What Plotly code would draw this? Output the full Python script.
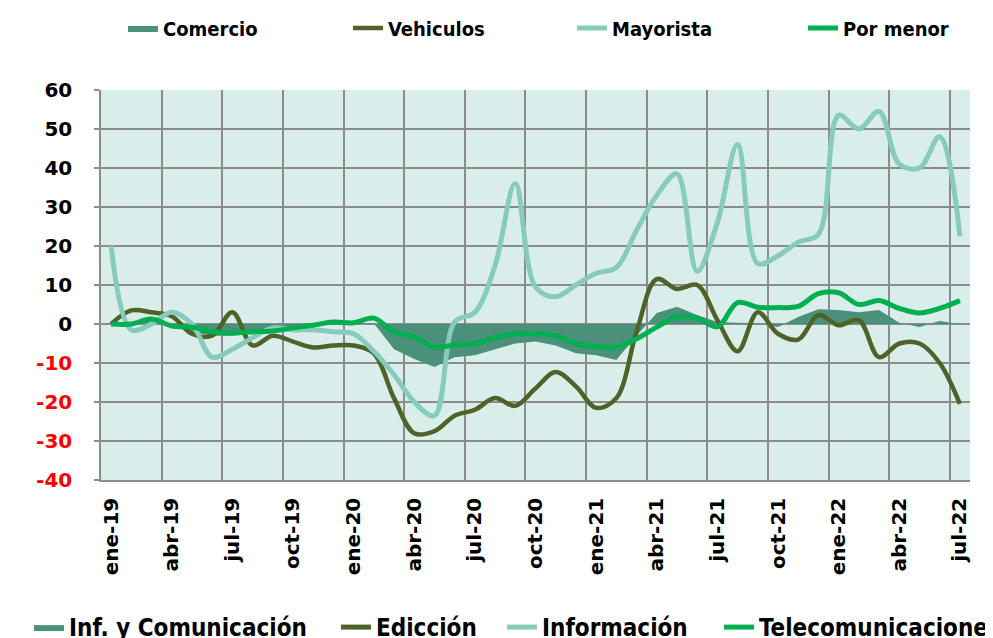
import plotly.graph_objects as go

# ---- data ----
mes_abbr = ["ene", "feb", "mar", "abr", "may", "jun", "jul", "ago", "sep", "oct", "nov", "dic"]
months = [f"{m}-{y}" for y in ["19", "20", "21", "22"] for m in mes_abbr][:43]
tick_labels = months[::3]

comercio = [0, 0.5, 1, -0.5, -2, -3, -3, -2.5, -2, -1, -0.5, 0,
            0, 0.2, -6.5, -9, -11, -8.5, -8, -6.5, -5, -4.5, -5.5, -7.5,
            -8, -9.2, -3, 2.8, 4.4, 2.3, 0.5, 0.3, 0.2, -0.8, 1.8, 3.8,
            3.6, 3, 3.6, 0.3, -0.8, 0.8, 0]
vehiculos = [0, 3.5, 3, 2, -2.5, -3, 3, -5.5, -3, -4.5, -6, -5.5,
             -5.5, -7.5, -19, -28, -27.5, -23.5, -22, -19, -21, -16.5, -12.3, -16,
             -21.5, -19, -2, 11.5, 9, 10, 1, -7, 3, -2.5, -4, 2.3,
             -0.3, 1, -8.5, -5, -5, -10, -20.5]
mayorista = [20, -1.5, 0, 3, 0, -8.5, -6.5, -3.5, -1, -1.5, -1.5, -2,
             -2.5, -7, -13, -20, -23.5, 0.5, 3, 15, 36, 9.5, 7, 10,
             13, 14.5, 24, 33, 38.5, 13.5, 26, 46, 15.5, 17.5, 21, 23,
             53.5, 50, 54.5, 41, 40, 48, 22.5]
por_menor = [0, 0, 1.3, -0.5, -0.8, -2, -2.3, -2, -1.8, -1, -0.3, 0.5,
             0.3, 1.5, -2, -3.3, -6, -5.3, -5, -3.5, -2.5, -2.5, -3, -5,
             -5.8, -6, -3.8, -0.8, 1.8, 1.5, -0.7, 5.5, 4.3, 4.2, 4.5, 7.8,
             8, 5, 6, 4, 2.8, 4, 6]

y_ticks = list(range(-40, 61, 10))

names_top = ["Comercio", "Vehiculos", "Mayorista", "Por menor"]
names_bottom = ["Inf. y Comunicación", "Edicción", "Información", "Telecomunicaciones"]

# ---- styles ----
c_area = "#4A907A"
c_veh = "#4F6228"
c_may = "#86CBBB"
c_men = "#00B050"
colors = [c_area, c_veh, c_may, c_men]
grid = "#8C8C8C"
# page has an 8px body margin, so the figure is drawn 8px smaller
W, H = 985, 630

top_x = [115, 340, 564, 795]      # legend box left (px, figure coords)
bot_x = [21, 328, 494, 711]
legend_font = "Liberation Sans Narrow, DejaVu Sans Condensed, DejaVu Sans, sans-serif"

fig = go.Figure()
series = [comercio, vehiculos, mayorista, por_menor]
for i, (nm, vals, col) in enumerate(zip(names_top, series, colors)):
    lg = "legend" if i == 0 else f"legend{i + 1}"
    if i == 0:
        fig.add_trace(go.Scatter(x=months, y=vals, name=nm, mode="lines",
                                 line=dict(width=0, color=col), fill="tozeroy",
                                 fillcolor=col, legend=lg))
    else:
        fig.add_trace(go.Scatter(x=months, y=vals, name=nm, mode="lines",
                                 line=dict(width=4.5 if i == 1 else 5, color=col,
                                           shape="spline", smoothing=1),
                                 legend=lg))

# second legend row (same colours, alternate names)
for i, (nm, col) in enumerate(zip(names_bottom, colors)):
    lg = f"legend{i + 5}"
    if i == 0:
        fig.add_trace(go.Scatter(x=[None], y=[None], name=nm, mode="lines",
                                 line=dict(width=0, color=col), fill="tozeroy",
                                 fillcolor=col, legend=lg))
    else:
        fig.add_trace(go.Scatter(x=[None], y=[None], name=nm, mode="lines",
                                 line=dict(width=5, color=col), legend=lg))

ticktext_y = [f'<span style="color:#FF0000">{v}</span>' if v < 0 else str(v) for v in y_ticks]

legends = {}
for i in range(4):
    key = "legend" if i == 0 else f"legend{i + 1}"
    legends[key] = dict(orientation="h", xref="container", yref="container",
                        x=top_x[i] / W, y=1 - 20 / H, xanchor="left", yanchor="middle",
                        font=dict(family=legend_font, size=20, weight="bold", color="black"),
                        bgcolor="rgba(0,0,0,0)")
for i in range(4):
    key = f"legend{i + 5}"
    legends[key] = dict(orientation="h", xref="container", yref="container",
                        x=bot_x[i] / W, y=1 - 597 / H, xanchor="left", yanchor="top",
                        font=dict(family=legend_font, size=24, weight="bold", color="black"),
                        bgcolor="rgba(0,0,0,0)")

fig.update_layout(
    width=W, height=H,
    margin=dict(l=93, r=23, t=82, b=158, autoexpand=False),
    plot_bgcolor="#D9EEEA", paper_bgcolor="white",
    font=dict(family="DejaVu Sans", color="black"),
    showlegend=True,
    xaxis=dict(type="category", range=[-0.5, 42.5], tickvals=tick_labels, ticktext=tick_labels,
               tickangle=-90, showgrid=True, gridcolor=grid, gridwidth=1.5,
               tickson="boundaries", ticks="", showline=True, linecolor=grid,
               linewidth=1.5, zeroline=False, ticklabelstandoff=8,
               tickfont=dict(family="DejaVu Sans", size=20, weight="bold", color="black")),
    yaxis=dict(range=[-40, 60], tickvals=y_ticks, ticktext=ticktext_y, showgrid=True,
               gridcolor=grid, gridwidth=1.5, zeroline=False, showline=True,
               linecolor=grid, linewidth=1.5, ticks="outside", ticklen=5,
               tickcolor=grid, tickwidth=1.5, ticklabelstandoff=18,
               tickfont=dict(family="DejaVu Sans", size=20, weight="bold", color="black")),
    **legends,
)

fig.write_html("out.html")
